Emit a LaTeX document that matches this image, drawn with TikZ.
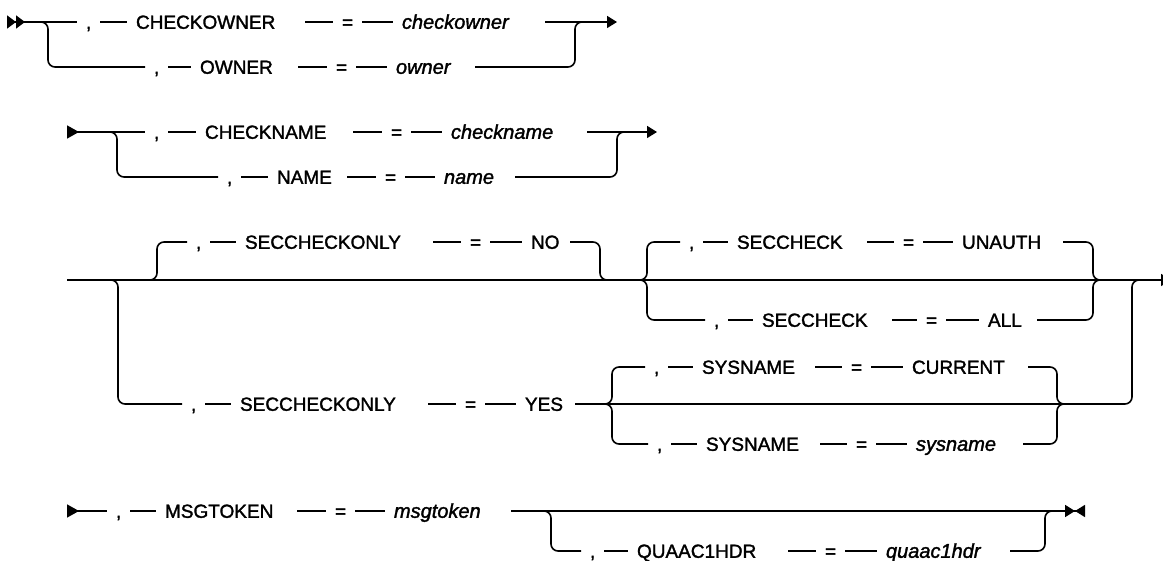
\documentclass[tikz,border=0pt]{standalone}
\usepackage{fontspec}
\setmainfont{Liberation Sans}[UprightFeatures={FakeBold=1.6}, ItalicFeatures={FakeBold=1.6}]
\usetikzlibrary{arrows.meta}

\begin{document}
\begin{tikzpicture}[x=1pt, y=-1pt,
  tok/.style={anchor=west, inner sep=0pt, outer sep=0pt, text height=13.6pt, text depth=0pt, font=\fontsize{19}{23}\selectfont},
  pad/.style={tok, text width=#1, align=left},
  val/.style={pad=#1, font=\fontsize{20}{24}\selectfont\itshape},
  rail/.style={line width=1.6pt, rounded corners=7pt},
  link/.style={rail, shorten <=9pt, shorten >=9pt},
  enter/.style={rail, shorten >=9pt},
  leave/.style={rail, shorten <=9pt},
  begin2/.style={{Triangle[reversed,length=9pt,width=13pt] Triangle[reversed,length=9pt,width=13pt]}-},
  begin1/.style={{Triangle[reversed,length=12pt,width=13pt]}-},
  more/.style={-{Triangle[length=10pt,width=12pt]}},
  stopmark/.style={-{Triangle[length=10pt,width=12pt] Triangle[reversed,length=10pt,width=12pt]}}]
\useasboundingbox (0,0) rectangle (1163,561);

% CHECKOWNER / OWNER
\coordinate (s1) at (7,22);
\coordinate (b1) at (48,67);
\coordinate (m1) at (575,22);
\coordinate (j1) at (595,22);
\coordinate (e1) at (617,22);
\node[tok] (c1a) at (86,22) {,};
\node[pad=160pt] (k1a) at (136,22) {CHECKOWNER};
\node[tok] (q1a) at (342,22) {=};
\node[val=134pt] (v1a) at (402,22) {checkowner};
\node[tok] (c1b) at (154,67) {,};
\node[pad=89pt] (k1b) at (200,67) {OWNER};
\node[tok] (q1b) at (336,67) {=};
\node[val=70pt] (v1b) at (396,67) {owner};
\draw[enter, begin2] (s1) -- (c1a);
\draw[enter] (s1) -| (b1) -- (c1b);
\draw[link] (c1a) -- (k1a);
\draw[link] (k1a) -- (q1a);
\draw[link] (q1a) -- (v1a);
\draw[leave, more] (v1a) -- (e1);
\draw[link] (c1b) -- (k1b);
\draw[link] (k1b) -- (q1b);
\draw[link] (q1b) -- (v1b);
\draw[leave] (v1b) -| (m1) -- (j1);

% CHECKNAME / NAME
\coordinate (s2) at (67,132);
\coordinate (b2) at (117,177);
\coordinate (m2) at (617,132);
\coordinate (j2) at (637,132);
\coordinate (e2) at (657,132);
\node[tok] (c2a) at (154,132) {,};
\node[pad=139pt] (k2a) at (205,132) {CHECKNAME};
\node[tok] (q2a) at (391,132) {=};
\node[val=127pt] (v2a) at (451,132) {checkname};
\node[tok] (c2b) at (227,177) {,};
\node[pad=61pt] (k2b) at (277,177) {NAME};
\node[tok] (q2b) at (385,177) {=};
\node[val=62pt] (v2b) at (444,177) {name};
\draw[enter, begin1] (s2) -- (c2a);
\draw[enter] (s2) -| (b2) -- (c2b);
\draw[link] (c2a) -- (k2a);
\draw[link] (k2a) -- (q2a);
\draw[link] (q2a) -- (v2a);
\draw[leave, more] (v2a) -- (e2);
\draw[link] (c2b) -- (k2b);
\draw[link] (k2b) -- (q2b);
\draw[link] (q2b) -- (v2b);
\draw[leave] (v2b) -| (m2) -- (j2);

% SECCHECKONLY
\coordinate (s3) at (67,280);
\coordinate (e3) at (1171,280);
\coordinate (b3a) at (157,242);
\coordinate (m3a) at (600,280);
\coordinate (j3a) at (620,280);
\node[tok] (c3a) at (196,242) {,};
\node[pad=179pt] (k3a) at (245,242) {SECCHECKONLY};
\node[tok] (q3a) at (470,242) {=};
\node[pad=30pt] (v3a) at (531,242) {NO};
\coordinate (b3b) at (118,404);
\coordinate (m3b) at (1132,280);
\coordinate (j3b) at (1150,280);
\node[tok] (c3b) at (191,404) {,};
\node[pad=179pt] (k3b) at (240,404) {SECCHECKONLY};
\node[tok] (q3b) at (465,404) {=};
\node[pad=41pt] (v3b) at (525,404) {YES};
\draw[rail, begin1, more] (s3) -- (e3);
\draw[enter] (s3) -| (b3a) -- (c3a);
\draw[enter] (s3) -| (b3b) -- (c3b);
\draw[link] (c3a) -- (k3a);
\draw[link] (k3a) -- (q3a);
\draw[link] (q3a) -- (v3a);
\draw[leave] (v3a) -| (m3a) -- (j3a);
\draw[link] (c3b) -- (k3b);
\draw[link] (k3b) -- (q3b);
\draw[link] (q3b) -- (v3b);
\draw[leave] (v3b) -| (m3b) -- (j3b);

% SECCHECK
\coordinate (b3c) at (647,242);
\coordinate (b3d) at (647,320);
\coordinate (m3c) at (1093,280);
\coordinate (j3c) at (1110,280);
\node[tok] (c3c) at (689,242) {,};
\node[pad=121pt] (k3c) at (737,242) {SECCHECK};
\node[tok] (q3c) at (903,242) {=};
\node[pad=92pt] (v3c) at (962,242) {UNAUTH};
\node[tok] (c3d) at (714,320) {,};
\node[pad=121pt] (k3d) at (762,320) {SECCHECK};
\node[tok] (q3d) at (926,320) {=};
\node[pad=40pt] (v3d) at (988,320) {ALL};
\draw[enter] (j3a) -| (b3c) -- (c3c);
\draw[enter] (j3a) -| (b3d) -- (c3d);
\draw[link] (c3c) -- (k3c);
\draw[link] (k3c) -- (q3c);
\draw[link] (q3c) -- (v3c);
\draw[leave] (v3c) -| (m3c) -- (j3c);
\draw[link] (c3d) -- (k3d);
\draw[link] (k3d) -- (q3d);
\draw[link] (q3d) -- (v3d);
\draw[leave] (v3d) -| (m3c) -- (j3c);

% SYSNAME
\coordinate (b3e) at (612,367);
\coordinate (b3f) at (612,444);
\coordinate (m3e) at (1057,404);
\coordinate (j3e) at (1080,404);
\node[tok] (c3e) at (654,367) {,};
\node[pad=104pt] (k3e) at (702,367) {SYSNAME};
\node[tok] (q3e) at (851,367) {=};
\node[pad=107pt] (v3e) at (912,367) {CURRENT};
\node[tok] (c3f) at (657,444) {,};
\node[pad=105pt] (k3f) at (706,444) {SYSNAME};
\node[tok] (q3f) at (856,444) {=};
\node[val=98pt] (v3f) at (916,444) {sysname};
\draw[link] (v3b) -| (b3e) -- (c3e);
\draw[link] (v3b) -| (b3f) -- (c3f);
\draw[link] (c3e) -- (k3e);
\draw[link] (k3e) -- (q3e);
\draw[link] (q3e) -- (v3e);
\draw[leave] (v3e) -| (m3e) -- (j3e);
\draw[link] (c3f) -- (k3f);
\draw[link] (k3f) -- (q3f);
\draw[link] (q3f) -- (v3f);
\draw[leave] (v3f) -| (m3e) -- (j3e);

% MSGTOKEN / QUAAC1HDR
\coordinate (s4) at (67,511);
\coordinate (e4) at (1085,511);
\coordinate (b4) at (551,551);
\coordinate (m4) at (1045,511);
\coordinate (j4) at (1058,511);
\node[tok] (c4a) at (116,511) {,};
\node[pad=123pt] (k4a) at (165,511) {MSGTOKEN};
\node[tok] (q4a) at (335,511) {=};
\node[val=108pt] (v4a) at (394,511) {msgtoken};
\node[tok] (c4b) at (590,551) {,};
\node[pad=142pt] (k4b) at (637,551) {QUAAC1HDR};
\node[tok] (q4b) at (825,551) {=};
\node[val=115pt] (v4b) at (886,551) {quaac1hdr};
\draw[enter, begin1] (s4) -- (c4a);
\draw[link] (c4a) -- (k4a);
\draw[link] (k4a) -- (q4a);
\draw[link] (q4a) -- (v4a);
\draw[leave, stopmark] (v4a) -- (e4);
\draw[link] (v4a) -| (b4) -- (c4b);
\draw[link] (c4b) -- (k4b);
\draw[link] (k4b) -- (q4b);
\draw[link] (q4b) -- (v4b);
\draw[leave] (v4b) -| (m4) -- (j4);
\end{tikzpicture}
\end{document}
